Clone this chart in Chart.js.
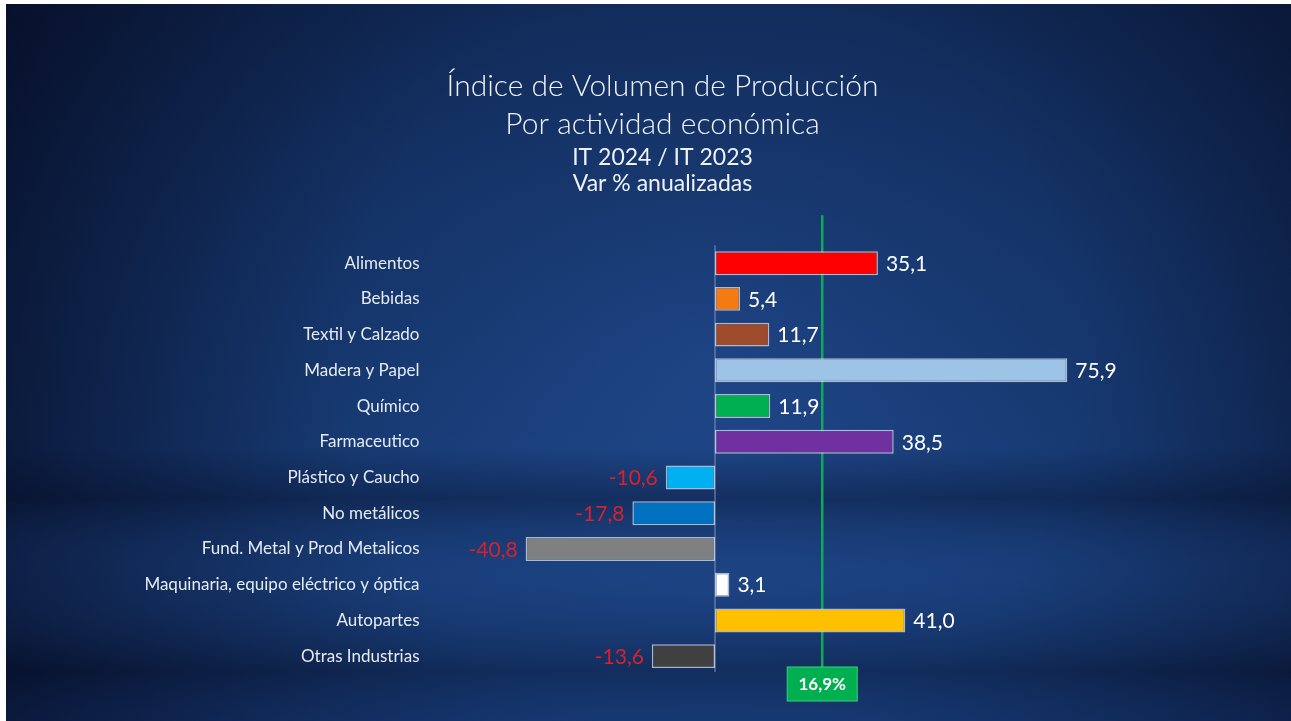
<!DOCTYPE html>
<html>
<head>
<meta charset="utf-8">
<script src="https://cdn.jsdelivr.net/npm/chart.js@4.4.1/dist/chart.umd.min.js"></script>
<style>
  html, body { margin: 0; padding: 0; background: #ffffff; }
  #wrap { position: absolute; left: 6px; top: 4px; width: 1285px; height: 717px; }
</style>
</head>
<body>
<div id="wrap"><canvas id="chart"></canvas></div>
<script>
const categories = [
  "Alimentos", "Bebidas", "Textil y Calzado", "Madera y Papel", "Químico",
  "Farmaceutico", "Plástico y Caucho", "No metálicos", "Fund. Metal y Prod Metalicos",
  "Maquinaria, equipo eléctrico y óptica", "Autopartes", "Otras Industrias"
];
const values = [35.1, 5.4, 11.7, 75.9, 11.9, 38.5, -10.6, -17.8, -40.8, 3.1, 41.0, -13.6];
const barColors = [
  "#ff0000", "#f47a12", "#9e4b2b", "#9dc3e6", "#00b050", "#7030a0",
  "#00b0f0", "#0070c0", "#808080", "#ffffff", "#ffc000", "#404040"
];
const titleLines = ["Índice de Volumen de Producción", "Por actividad económica"];
const subtitleLines = ["IT 2024 / IT 2023", "Var % anualizadas"];
const totalLabel = "16,9%";
const markerValue = 23.1;   // green reference line position on the value axis
const xMin = -60;
const xMax = 120;

const fmt = v => v.toFixed(1).replace(".", ",");

// dark blue slide background
const backdrop = {
  id: "backdrop",
  beforeDraw(chart) {
    const { ctx, width, height } = chart;
    ctx.save();
    const g = ctx.createRadialGradient(width * 0.55, height * 0.5, 20, width * 0.55, height * 0.5, width * 0.62);
    g.addColorStop(0, "#1f4789");
    g.addColorStop(0.45, "#173a73");
    g.addColorStop(1, "#08122e");
    ctx.fillStyle = g;
    ctx.fillRect(0, 0, width, height);
    const band = ctx.createLinearGradient(0, 0, 0, height);
    band.addColorStop(0, "rgba(5,12,35,0.3)");
    band.addColorStop(0.62, "rgba(5,12,35,0)");
    band.addColorStop(0.69, "rgba(5,12,35,0.35)");
    band.addColorStop(0.8, "rgba(40,90,170,0.12)");
    band.addColorStop(0.93, "rgba(5,12,35,0.3)");
    band.addColorStop(1, "rgba(20,50,110,0.2)");
    ctx.fillStyle = band;
    ctx.fillRect(0, 0, width, height);
    ctx.restore();
  }
};

// zero axis and green reference line behind the bars
const guides = {
  id: "guides",
  beforeDatasetsDraw(chart) {
    const { ctx, chartArea } = chart;
    const x = chart.scales.x;
    const x0 = x.getPixelForValue(0);
    const xm = x.getPixelForValue(markerValue);
    ctx.save();
    ctx.strokeStyle = "#7f93b8";
    ctx.lineWidth = 1;
    ctx.beginPath();
    ctx.moveTo(x0, chartArea.top);
    ctx.lineTo(x0, chartArea.bottom - 2);
    ctx.stroke();
    ctx.strokeStyle = "#12a85a";
    ctx.lineWidth = 2.5;
    ctx.beginPath();
    ctx.moveTo(xm, chartArea.top - 30);
    ctx.lineTo(xm, chartArea.bottom - 6);
    ctx.stroke();
    ctx.restore();
  },
  afterDatasetsDraw(chart) {
    const { ctx, chartArea } = chart;
    const xm = chart.scales.x.getPixelForValue(markerValue);
    const meta = chart.getDatasetMeta(0);
    ctx.save();
    // value labels
    ctx.font = "21px Lato";
    ctx.textBaseline = "middle";
    meta.data.forEach((bar, i) => {
      const v = values[i];
      if (v >= 0) {
        ctx.fillStyle = "#ffffff";
        ctx.textAlign = "left";
        ctx.fillText(fmt(v), bar.x + 8, bar.y + 1);
      } else {
        ctx.fillStyle = "#d9212b";
        ctx.textAlign = "right";
        ctx.fillText(fmt(v), bar.x - 8, bar.y + 1);
      }
    });
    // total box
    const bw = 70, bh = 34;
    const top = chartArea.bottom - 7;
    ctx.fillStyle = "#00b050";
    ctx.fillRect(xm - bw / 2, top, bw, bh);
    ctx.strokeStyle = "#3ccf7c";
    ctx.lineWidth = 1;
    ctx.strokeRect(xm - bw / 2, top, bw, bh);
    ctx.fillStyle = "#ffffff";
    ctx.font = "bold 17px Lato";
    ctx.textAlign = "center";
    ctx.fillText(totalLabel, xm, top + bh / 2 + 1);
    ctx.restore();
  }
};

new Chart(document.getElementById("chart"), {
  type: "bar",
  data: {
    labels: categories,
    datasets: [{
      data: values,
      backgroundColor: barColors,
      borderColor: "rgba(220,225,235,0.75)",
      borderWidth: 1.5,
      borderSkipped: false,
      barPercentage: 0.67,
      categoryPercentage: 1
    }]
  },
  options: {
    indexAxis: "y",
    responsive: true,
    maintainAspectRatio: false,
    animation: false,
    layout: { padding: { left: 47, right: 19, top: 0, bottom: 47 } },
    scales: {
      x: {
        display: false,
        min: xMin,
        max: xMax
      },
      y: {
        grid: { display: false },
        border: { display: false },
        ticks: {
          color: "#e6ebf3",
          font: { family: "Lato", size: 17 },
          padding: 9
        },
        afterFit(scale) { scale.width = 383.5; }
      }
    },
    plugins: {
      legend: { display: false },
      tooltip: { enabled: false },
      title: {
        display: true,
        text: titleLines,
        color: "#eef2f8",
        font: { family: "Lato", size: 30, weight: 300, lineHeight: 1.27 },
        padding: { top: 63, bottom: 0 }
      },
      subtitle: {
        display: true,
        text: subtitleLines,
        color: "#eef2f8",
        font: { family: "Lato", size: 23, weight: 400, lineHeight: 1.1 },
        padding: { top: 2, bottom: 49.5 }
      }
    }
  },
  plugins: [backdrop, guides]
});
</script>
</body>
</html>
